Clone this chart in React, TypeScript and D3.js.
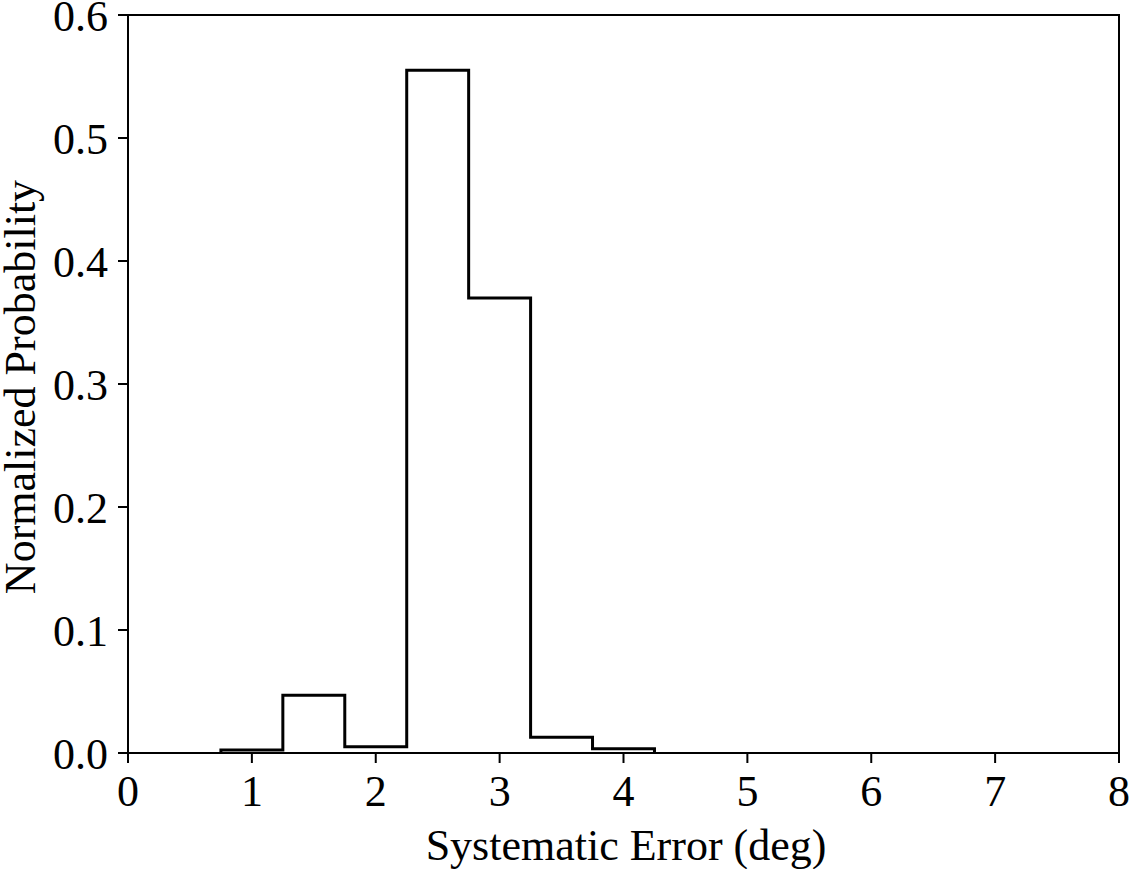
import React from "react";
import * as d3 from "d3";

const binEdges = [0.75, 1.25, 1.75, 2.25, 2.75, 3.25, 3.75, 4.25];
const binValues = [0.0024, 0.047, 0.0051, 0.555, 0.37, 0.0128, 0.0035];
const xTicks = [0, 1, 2, 3, 4, 5, 6, 7, 8];
const yTicks = [0, 0.1, 0.2, 0.3, 0.4, 0.5, 0.6];
const xLabel = "Systematic Error (deg)";
const yLabel = "Normalized Probability";

export default function App() {
  const W = 1131, H = 869;
  const left = 128, right = 1119, top = 15, bottom = 753;
  const x = d3.scaleLinear().domain([0, 8]).range([left, right]);
  const y = d3.scaleLinear().domain([0, 0.6]).range([bottom, top]);

  const pts: [number, number][] = [[binEdges[0], 0]];
  binValues.forEach((v, i) => {
    pts.push([binEdges[i], v]);
    pts.push([binEdges[i + 1], v]);
  });
  pts.push([binEdges[binEdges.length - 1], 0]);
  const line = d3.line<[number, number]>().x(d => x(d[0])).y(d => y(d[1]));

  const font = "'Liberation Serif', 'Times New Roman', serif";
  return (
    <svg width={W} height={H} style={{ position: "absolute", left: 0, top: 0, background: "#fff" }}>
      <rect x={0} y={0} width={W} height={H} fill="#fff" />
      <path d={line(pts) || ""} fill="none" stroke="#000" strokeWidth={3} strokeLinejoin="miter" />
      <rect x={left} y={top} width={right - left} height={bottom - top} fill="none" stroke="#000" strokeWidth={2} />
      {xTicks.map(t => (
        <g key={"x" + t}>
          <line x1={x(t)} x2={x(t)} y1={bottom} y2={bottom + 10} stroke="#000" strokeWidth={2} />
          <text x={x(t)} y={bottom + 53} textAnchor="middle" fontFamily={font} fontSize={44}>{t}</text>
        </g>
      ))}
      {yTicks.map(t => (
        <g key={"y" + t}>
          <line x1={left - 10} x2={left} y1={y(t)} y2={y(t)} stroke="#000" strokeWidth={2} />
          <text x={left - 20} y={y(t) + 16} textAnchor="end" fontFamily={font} fontSize={44}>{t.toFixed(1)}</text>
        </g>
      ))}
      <text x={626} y={860} textAnchor="middle" fontFamily={font} fontSize={44}>{xLabel}</text>
      <text transform={`translate(35, ${(top + bottom) / 2 + 3}) rotate(-90)`} textAnchor="middle" fontFamily={font} fontSize={44}>{yLabel}</text>
    </svg>
  );
}
